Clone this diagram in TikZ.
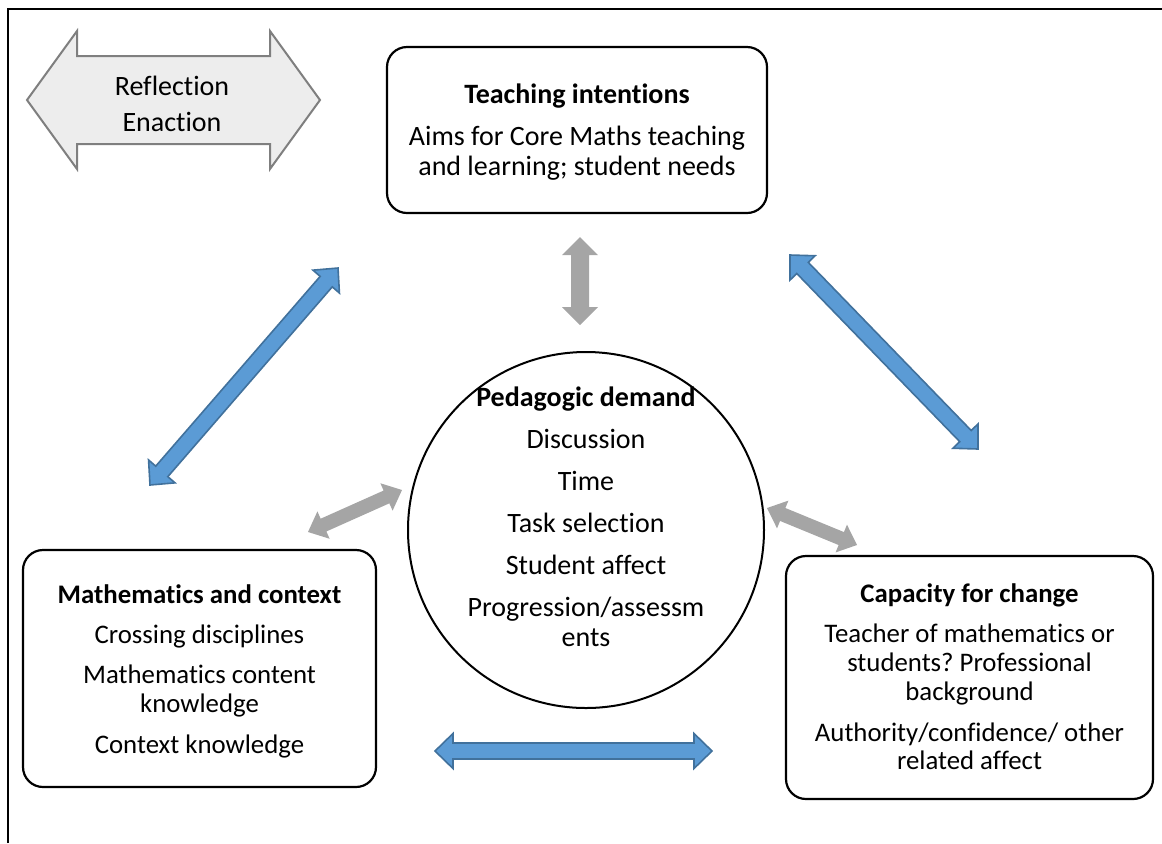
\documentclass[tikz,border=0pt]{standalone}
\usepackage{fontspec}
\setmainfont{Carlito}[Ligatures=NoCommon]
\usetikzlibrary{calc}
\definecolor{arrowblue}{HTML}{5B9BD5}
\definecolor{arrowedge}{HTML}{41719C}
\definecolor{arrowgrey}{HTML}{A5A5A5}
\definecolor{shadegrey}{HTML}{EDEDED}
\definecolor{edgegrey}{HTML}{7F7F7F}
\frenchspacing

% block arrow: [style]{from}{to}{half shaft}{half head}{head length}
\newcommand{\blockarrow}[6][]{%
  \path[#1] (#2) -- ($(#2)!#6!(#3)!#5!90:(#3)$) -- ($(#2)!#6!(#3)!#4!90:(#3)$)
    -- ($(#3)!#6!(#2)!#4!90:(#3)$) -- ($(#3)!#6!(#2)!#5!90:(#3)$) -- (#3)
    -- ($(#3)!#6!(#2)!#5!-90:(#3)$) -- ($(#3)!#6!(#2)!#4!-90:(#3)$)
    -- ($(#2)!#6!(#3)!#4!-90:(#3)$) -- ($(#2)!#6!(#3)!#5!-90:(#3)$) -- cycle;}

\begin{document}
\begin{tikzpicture}[x=0.5pt,y=-0.5pt,
    every node/.style={font=\fontsize{14pt}{15pt}\selectfont},
    smalltext/.style={align=center,font=\fontsize{13.4pt}{14.4pt}\selectfont},
    box/.style={draw,rounded corners=10pt,line width=1.1pt,align=center},
    bluearrow/.style={fill=arrowblue,draw=arrowedge,line width=0.8pt},
    greyarrow/.style={fill=arrowgrey}]
    \useasboundingbox (0,0) rectangle (1162,843);
    \draw[line width=1pt] (8,843) -- (8,9) -- (1162,9);

    % reflection / enaction
    \coordinate (reflectL) at (27,100);
    \coordinate (reflectR) at (320,100);
    \blockarrow[fill=shadegrey,draw=edgegrey,line width=1pt]{reflectL}{reflectR}{22pt}{34.5pt}{25pt}
    \node[align=center] (reflect) at (172,104) {Reflection\\[3pt]Enaction};

    \node[box,minimum width=190pt,minimum height=83pt] (intent) at (577,130) {};
    \node[align=center] (intenttext) at (577,132)
        {\textbf{Teaching intentions}\\[6pt]Aims for Core Maths teaching\\and learning; student needs};
    \node[draw,circle,line width=1pt,minimum size=178pt] (demand) at (586,530) {};
    \node[align=center] (demandtext) at (586,517)
        {\textbf{Pedagogic demand}\\[6pt]Discussion\\[6pt]Time\\[6pt]Task selection\\[6pt]Student affect\\[6pt]Progression/assessm\\ents};
    \node[box,minimum width=176.5pt,minimum height=118.5pt] (maths) at (199.5,668.5) {};
    \node[smalltext] (mathstext) at (199.5,671)
        {\textbf{Mathematics and context}\\[6pt]Crossing disciplines\\[5.5pt]Mathematics content\\knowledge\\[6pt]Context knowledge};
    \node[box,minimum width=183.5pt,minimum height=121.5pt] (capacity) at (969.5,677.5) {};
    \node[smalltext] (capacitytext) at (969.5,677)
        {\textbf{Capacity for change}\\[5.5pt]Teacher of mathematics or\\students? Professional\\background\\[6pt]Authority/confidence/ other\\related affect};

    % blue arrows between the outer boxes
    \coordinate (mathsUp) at (150,485);
    \coordinate (intentL) at (338,268);
    \coordinate (intentR) at (790,255);
    \coordinate (capacityUp) at (978,449);
    \coordinate (mathsR) at (435,751);
    \coordinate (capacityL) at (712,751);
    \blockarrow[bluearrow]{mathsUp}{intentL}{4pt}{8.75pt}{9pt}
    \blockarrow[bluearrow]{intentR}{capacityUp}{4pt}{8.75pt}{9pt}
    \blockarrow[bluearrow]{mathsR}{capacityL}{4pt}{8.75pt}{9pt}

    % grey arrows to the centre
    \coordinate (intentDown) at (580,237);
    \coordinate (demandUp) at (580,325);
    \coordinate (mathsIn) at (308,532);
    \coordinate (demandL) at (402,490);
    \coordinate (demandR) at (767,508);
    \coordinate (capacityIn) at (857,545);
    \blockarrow[greyarrow]{intentDown}{demandUp}{4.5pt}{9pt}{9pt}
    \blockarrow[greyarrow]{mathsIn}{demandL}{3.5pt}{7.5pt}{8.5pt}
    \blockarrow[greyarrow]{demandR}{capacityIn}{3.5pt}{7.5pt}{8.5pt}
\end{tikzpicture}
\end{document}
